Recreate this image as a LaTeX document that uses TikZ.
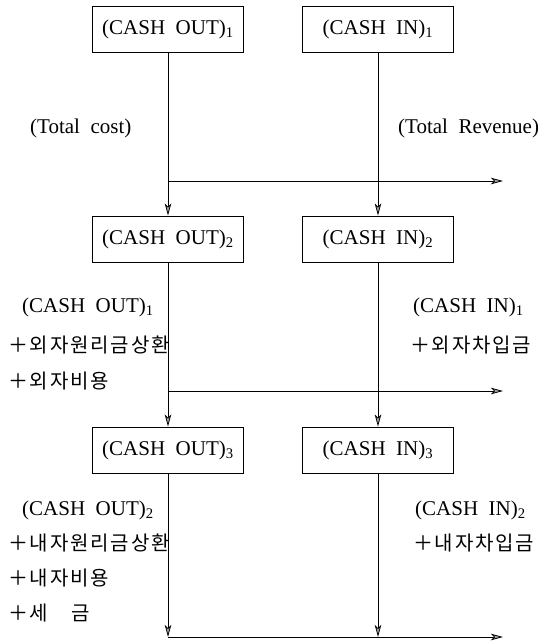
\documentclass[tikz,border=0pt]{standalone}
\usepackage{fontspec}
\setmainfont{Liberation Serif}
\newfontfamily\kr[LetterSpace=9]{Noto Sans CJK KR}
\usetikzlibrary{arrows.meta}
\newcommand{\mysub}[1]{\textsubscript{#1}}
\tikzset{
  cashbox/.style={draw, line width=0.9pt, minimum width=151pt, minimum height=46pt, inner sep=0pt, font=\fontsize{21}{24}\selectfont},
  lbl/.style={anchor=west, inner sep=0pt, font=\fontsize{21}{24}\selectfont},
  krlbl/.style={anchor=west, inner sep=0pt, font=\kr\fontsize{20}{24}\selectfont},
  flow/.style={line width=0.8pt, -{Stealth[length=12pt,width=6.5pt,inset=3pt,fill=gray!70]}},
  plain/.style={line width=0.8pt}
}
\begin{document}
\begin{tikzpicture}[x=1pt,y=-1pt]
\useasboundingbox (0,0) rectangle (538,642);
% boxes
\node[cashbox] (o1) at (168,29) {(CASH\ \ OUT)\mysub{1}};
\node[cashbox] (i1) at (378,29) {(CASH\ \ IN)\mysub{1}};
\node[cashbox] (o2) at (168,239) {(CASH\ \ OUT)\mysub{2}};
\node[cashbox] (i2) at (378,239) {(CASH\ \ IN)\mysub{2}};
\node[cashbox] (o3) at (168,450) {(CASH\ \ OUT)\mysub{3}};
\node[cashbox] (i3) at (378,450) {(CASH\ \ IN)\mysub{3}};
% labels
\node[lbl] (tc) at (30,128) {(Total\ \ cost)};
\node[lbl] (tr) at (398,128) {(Total\ \ Revenue)};
\node[lbl] (l2a) at (22,307) {(CASH\ \ OUT)\mysub{1}};
\node[krlbl] (l2b) at (8,345) {＋외자원리금상환};
\node[krlbl] (l2c) at (8,381) {＋외자비용};
\node[lbl] (r2a) at (413,307) {(CASH\ \ IN)\mysub{1}};
\node[krlbl] (r2b) at (410,345) {＋외자차입금};
\node[lbl] (l3a) at (22,510) {(CASH\ \ OUT)\mysub{2}};
\node[krlbl] (l3b) at (8,543) {＋내자원리금상환};
\node[krlbl] (l3c) at (8,578) {＋내자비용};
\node[krlbl] (l3d) at (8,613) {＋세　금};
\node[lbl] (r3a) at (415,510) {(CASH\ \ IN)\mysub{2}};
\node[krlbl] (r3b) at (413,543) {＋내자차입금};
% coordinates
\coordinate (h1s) at (168,181);
\coordinate (h1e) at (503,181);
\coordinate (h2s) at (168,391);
\coordinate (h2e) at (503,391);
\coordinate (h3s) at (168,637);
\coordinate (h3e) at (503,637);
\coordinate (bl) at (168,637);
\coordinate (br) at (378,637);
% verticals
\draw[flow] (o1.south) -- (o2.north);
\draw[flow] (i1.south) -- (i2.north);
\draw[flow] (o2.south) -- (o3.north);
\draw[flow] (i2.south) -- (i3.north);
\draw[flow] (o3.south) -- (bl);
\draw[flow] (i3.south) -- (br);
% horizontals
\draw[flow] (h1s) -- (h1e);
\draw[flow] (h2s) -- (h2e);
\draw[flow] (h3s) -- (h3e);
\end{tikzpicture}
\end{document}
